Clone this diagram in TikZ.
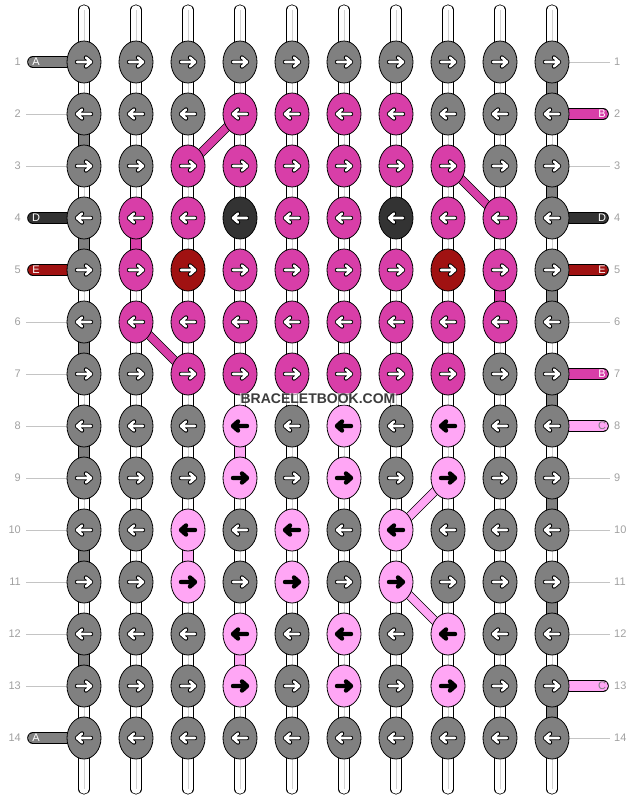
\documentclass[tikz,border=0pt]{standalone}
\usepackage{fontspec}
\setmainfont{Liberation Sans}
\usetikzlibrary{shapes.geometric, backgrounds}
\definecolor{cg}{HTML}{808080}
\definecolor{cm}{HTML}{D83EA8}
\definecolor{cd}{HTML}{333333}
\definecolor{cr}{HTML}{A01212}
\definecolor{cp}{HTML}{FFA6F5}
\definecolor{numgray}{HTML}{A0A0A0}
\definecolor{lineg}{HTML}{C4C4C4}
\definecolor{wmgray}{HTML}{3C3C3C}

\begin{document}
\begin{tikzpicture}[
    % 1pt = 1 像素, y 轴向下
    x=1pt, y=-1pt,
    % 结中箭头: 颜色与方向
    arrow color/.store in=\arrowcol,
    arrow dir/.store in=\arrowdir,
    % 结的样式: 椭圆 + 箭头
    knot/.style={
        ellipse, % 形状: 椭圆
        draw=black, line width=0.8pt,
        minimum width=34pt, minimum height=42pt,
        inner sep=0pt,
        arrow color=white, arrow dir=1,
        path picture={
            \foreach \lw/\cl in {4.4/black, 2.6/\arrowcol}
                \draw[color=\cl, line width=\lw pt, line cap=round, line join=round,
                      shift={(path picture bounding box.center)}]
                    ({-7*\arrowdir},0) -- ({7*\arrowdir},0)
                    ({2*\arrowdir},-4.5) -- ({7*\arrowdir},0) -- ({2*\arrowdir},4.5);
            }
        },
    kg/.style={knot, fill=cg},
    km/.style={knot, fill=cm},
    kd/.style={knot, fill=cd},
    kr/.style={knot, fill=cr},
    kp/.style={knot, fill=cp, arrow color=black},
    % 线的样式: 黑边 + 彩色芯
    thread/.style={draw=black, line width=0.8pt, double=#1, double distance=10pt},
    slant/.style={draw=black, line width=0.8pt, double=#1, double distance=7.5pt},
    warp/.style={draw=black, line width=0.8pt, double=white, double distance=9.5pt, line cap=round},
    guide/.style={draw=lineg, line width=0.8pt},
    % 标注样式
    rowno/.style={text=numgray, font=\fontsize{11}{13}\selectfont, inner sep=0pt},
    tag/.style={font=\fontsize{11}{13}\selectfont, inner sep=0pt}
    ]
    \useasboundingbox (0,0) rectangle (636,800);
    % ========== 第一步: 逐行画结 ==========
    \foreach \r/\row in {
        1/{g,g,g,g,g,g,g,g,g,g},
        2/{g,g,g,m,m,m,m,g,g,g},
        3/{g,g,m,m,m,m,m,m,g,g},
        4/{g,m,m,d,m,m,d,m,m,g},
        5/{g,m,r,m,m,m,m,r,m,g},
        6/{g,m,m,m,m,m,m,m,m,g},
        7/{g,g,m,m,m,m,m,m,g,g},
        8/{g,g,g,p,g,p,g,p,g,g},
        9/{g,g,g,p,g,p,g,p,g,g},
        10/{g,g,p,g,p,g,p,g,g,g},
        11/{g,g,p,g,p,g,p,g,g,g},
        12/{g,g,g,p,g,p,g,p,g,g},
        13/{g,g,g,p,g,p,g,p,g,g},
        14/{g,g,g,g,g,g,g,g,g,g}} {
        \ifodd\r \def\kdir{1}\else \def\kdir{-1}\fi
        \foreach \k [count=\c] in \row
            \node[k\k, arrow dir=\kdir] (k-\r-\c) at ({84+52*(\c-1)}, {62+52*(\r-1)}) {};
    }
    % ========== 第二步: 背景层画线 ==========
    \begin{pgfonlayer}{background}
        % 竖向经线
        \foreach \c in {1,...,10} {
            \coordinate (top-\c) at ({84+52*(\c-1)}, 10);
            \coordinate (bot-\c) at ({84+52*(\c-1)}, 789);
            \draw[warp] (top-\c) -- (bot-\c);
            \draw[draw=gray!35, line width=0.8pt] (top-\c) -- (bot-\c);
        }
        % 横向连线
        \foreach \r in {1,...,14}
            \foreach \c [evaluate=\c as \n using int(\c+1)] in {1,...,9}
                \draw[thread=cg] (k-\r-\c.center) -- (k-\r-\n.center);
        % 两端换行
        \foreach \r [evaluate=\r as \n using int(\r+1)] in {1,3,...,13}
            \draw[thread=cg] (k-\r-10.center) -- (k-\n-10.center);
        \foreach \r [evaluate=\r as \n using int(\r+1)] in {2,4,...,12}
            \draw[thread=cg] (k-\r-1.center) -- (k-\n-1.center);
        % 彩色竖线
        \foreach \a/\b/\cl in {4-2/5-2/cm, 5-9/6-9/cm, 8-4/9-4/cp, 10-3/11-3/cp, 12-4/13-4/cp}
            \draw[thread=\cl] (k-\a.center) -- (k-\b.center);
        % 斜线
        \foreach \a/\b/\cl in {2-4/3-3/cm, 3-8/4-9/cm, 6-2/7-3/cm, 9-8/10-7/cp, 11-7/12-8/cp}
            \draw[slant=\cl] (k-\a.center) -- (k-\b.center);
        % 行号引线
        \foreach \r in {2,3,6,7,8,9,10,11,12,13} {
            \coordinate (gl-\r) at (26, {62+52*(\r-1)});
            \draw[guide] (gl-\r) -- (k-\r-1.center);
        }
        \foreach \r in {1,3,6,9,10,11,12,14} {
            \coordinate (gr-\r) at (610, {62+52*(\r-1)});
            \draw[guide] (k-\r-10.center) -- (gr-\r);
        }
        % 线头
        \foreach \r/\cl in {1/cg, 4/cd, 5/cr, 14/cg} {
            \coordinate (el-\r) at (33, {62+52*(\r-1)});
            \draw[thread=\cl, line cap=round] (el-\r) -- (k-\r-1.center);
        }
        \foreach \r/\cl in {2/cm, 4/cd, 5/cr, 7/cm, 8/cp, 13/cp} {
            \coordinate (er-\r) at (603, {62+52*(\r-1)});
            \draw[thread=\cl, line cap=round] (k-\r-10.center) -- (er-\r);
        }
    \end{pgfonlayer}
    % ========== 第三步: 线头字母 + 行号 ==========
    \foreach \r/\t/\tc in {1/A/white, 4/D/white, 5/E/white, 14/A/white}
        \node[tag, text=\tc] (tl-\r) at (36, {62+52*(\r-1)}) {\t};
    \foreach \r/\t/\tc in {2/B/white, 4/D/white, 5/E/white, 7/B/white, 8/C/gray, 13/C/gray}
        \node[tag, text=\tc] (tr-\r) at (602, {62+52*(\r-1)}) {\t};
    \foreach \r in {1,...,14} {
        \node[rowno, anchor=east] (nl-\r) at (21, {62+52*(\r-1)}) {\r};
        \node[rowno, anchor=west] (nr-\r) at (614, {62+52*(\r-1)}) {\r};
    }
    % 水印
    \node[font=\bfseries\fontsize{14}{16}\selectfont, text=wmgray, fill=white,
          fill opacity=0.6, text opacity=1, inner sep=1pt] (wm) at (318, 399) {BRACELETBOOK.COM};
\end{tikzpicture}
\end{document}
